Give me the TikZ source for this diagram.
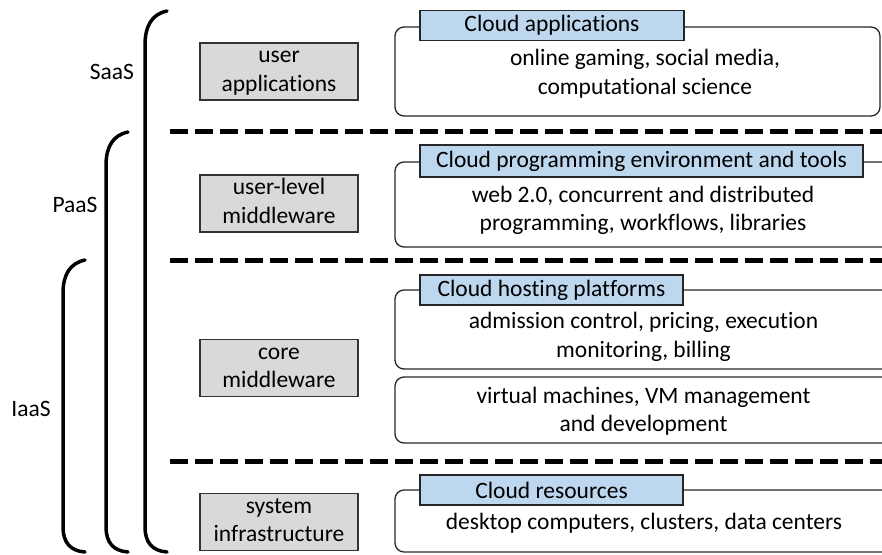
\documentclass[tikz,border=0pt]{standalone}
\usepackage{fontspec}
\setmainfont{Carlito}[Ligatures=NoCommon]
\begin{document}
\begin{tikzpicture}[x=1pt,y=-1pt,
  txt/.style={font=\fontsize{23.5}{28.5}\selectfont, align=center, inner sep=0pt},
  layer/.style={txt, draw=black!80, line width=1.3pt, fill=black!15,
    minimum width=158pt, minimum height=57pt},
  group/.style={draw=black!85, line width=1.3pt, rounded corners=9pt},
  tag/.style={txt, draw=black!85, line width=1.3pt,
    minimum height=30pt, inner xsep=12pt},
  sep/.style={line width=5pt, dash pattern=on 18pt off 7pt},
  brace/.style={line width=3.5pt, line cap=round}]
\definecolor{tagblue}{HTML}{BDD7EE}
\useasboundingbox (0,0) rectangle (882,554);

% service-model brackets
\coordinate (s1) at (167,11);  \coordinate (s2) at (167,552);
\coordinate (p1) at (128,132); \coordinate (p2) at (128,552);
\coordinate (i1) at (85,260);  \coordinate (i2) at (85,552);
\draw[brace] (s1) .. controls (152,14) and (145,26) .. (145,45) -- (145,527)
  .. controls (145,542) and (152,551) .. (s2);
\draw[brace] (p1) .. controls (113,135) and (106,147) .. (106,165) -- (106,527)
  .. controls (106,542) and (113,551) .. (p2);
\draw[brace] (i1) .. controls (70,263) and (63,275) .. (63,293) -- (63,527)
  .. controls (63,542) and (70,551) .. (i2);
\node[txt] (saas) at (112,72) {SaaS};
\node[txt] (paas) at (75,205) {PaaS};
\node[txt] (iaas) at (31,409) {IaaS};

% layer separators
\coordinate (d1a) at (170,131); \coordinate (d1b) at (890,131);
\coordinate (d2a) at (170,260); \coordinate (d2b) at (890,260);
\coordinate (d3a) at (170,461); \coordinate (d3b) at (890,461);
\draw[sep] (d1a) -- (d1b);
\draw[sep] (d2a) -- (d2b);
\draw[sep] (d3a) -- (d3b);

% layers
\node[layer] (ua) at (279,71.5) {\strut user\\\strut applications};
\node[layer] (um) at (279,203.5) {\strut user-level\\\strut middleware};
\node[layer] (cm) at (279,368) {\strut core\\\strut middleware};
\node[layer] (si) at (279,522) {\strut system\\\strut infrastructure};

% right-hand groups
\draw[group] (395,27) rectangle (880,116);
\node[tag, fill=tagblue, minimum width=264pt] (t1) at (552,25.5) {Cloud applications};
\node[txt] (c1) at (645,74.5) {\strut online gaming, social media,\\\strut computational science};

\draw[group] (395,162) rectangle (900,247);
\node[tag, fill=tagblue, minimum width=443pt, minimum height=32pt] (t2) at (641.5,161) {Cloud programming environment and tools};
\node[txt] (c2) at (643,211) {\strut web 2.0, concurrent and distributed\\\strut programming, workflows, libraries};

\draw[group] (395,290) rectangle (900,369);
\node[tag, fill=tagblue, minimum width=263pt] (t3) at (551.5,290) {Cloud hosting platforms};
\node[txt] (c3) at (643.5,337.5) {\strut admission control, pricing, execution\\\strut monitoring, billing};

\draw[group] (395,377) rectangle (900,443);
\node[txt] (c4) at (643.5,412) {\strut virtual machines, VM management\\\strut and development};

\draw[group] (395,490) rectangle (900,552);
\node[tag, fill=tagblue, minimum width=263pt] (t4) at (551.5,490) {Cloud resources};
\node[txt] (c5) at (644,523) {desktop computers, clusters, data centers};
\end{tikzpicture}
\end{document}
